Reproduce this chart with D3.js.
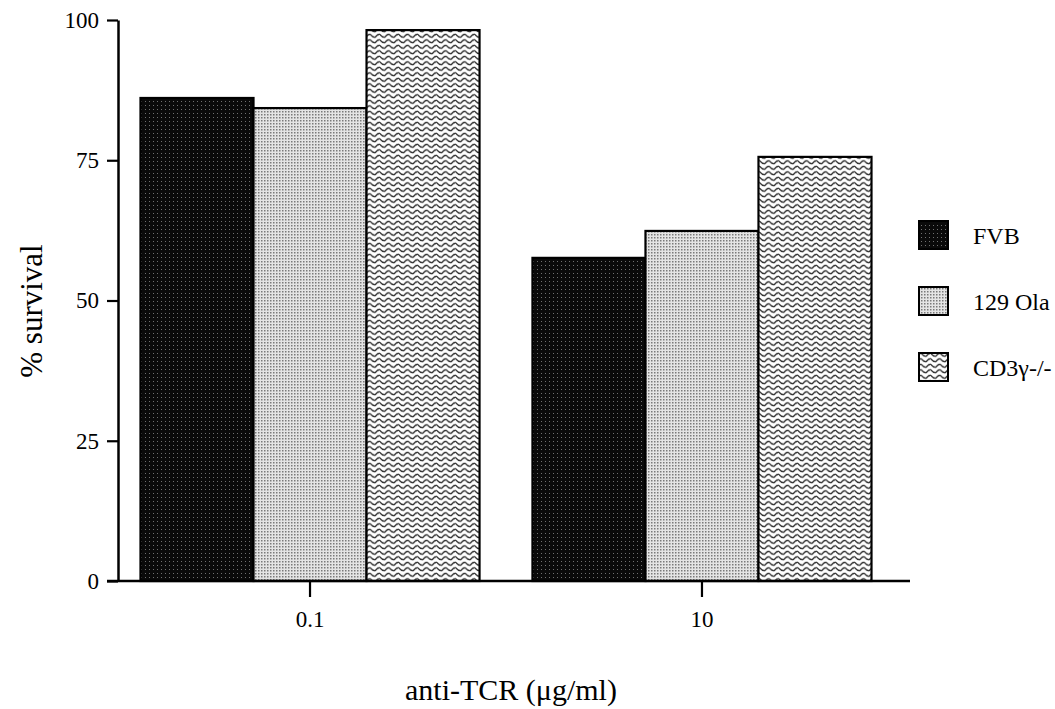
<!DOCTYPE html>
<html><head><meta charset="utf-8">
<script src="https://cdn.jsdelivr.net/npm/d3@7"></script>
<style>body{margin:0;background:#fff}svg{display:block}</style>
</head><body>
<svg id="c" width="1055" height="709"></svg>
<script>
const categories = ["0.1", "10"];
const seriesNames = ["FVB", "129 Ola", "CD3γ-/-"];
const FVB = [86.1, 57.6];
const Ola129 = [84.3, 62.4];
const CD3g = [98.2, 75.6];
const yTicks = [0, 25, 50, 75, 100];
const seriesValues = [FVB, Ola129, CD3g];

const svg = d3.select("#c");
const font = "'Liberation Serif', 'Times New Roman', serif";
const defs = svg.append("defs");

// FVB: dark halftone
const p1 = defs.append("pattern").attr("id","pFVB").attr("patternUnits","userSpaceOnUse").attr("width",4).attr("height",4);
p1.append("rect").attr("width",4).attr("height",4).attr("fill","#0a0a0a");
p1.append("rect").attr("x",1).attr("y",1).attr("width",1).attr("height",1).attr("fill","#707070");
// 129 Ola: light dotted
const p2 = defs.append("pattern").attr("id","pOla").attr("patternUnits","userSpaceOnUse").attr("width",3).attr("height",3);
p2.append("rect").attr("width",3).attr("height",3).attr("fill","#e4e4e4");
p2.append("rect").attr("x",0).attr("y",0).attr("width",1.5).attr("height",1.5).attr("fill","#7a7a7a");
// CD3: wavy lines
const p3 = defs.append("pattern").attr("id","pCD3").attr("patternUnits","userSpaceOnUse").attr("width",9.5).attr("height",5.5);
p3.append("rect").attr("width",9.5).attr("height",5.5).attr("fill","#fff");
p3.append("path").attr("d","M-0.5,1.2 Q2.4,4.6 4.75,4.3 Q7.1,1.0 10,1.2").attr("fill","none").attr("stroke","#222").attr("stroke-width",1.1);
p3.append("path").attr("d","M0,1.3 L2.4,4.2 L4.75,4.3 L7.1,1.2 L9.5,1.3").attr("fill","none").attr("stroke","#222").attr("stroke-width",0.8);
const fills = ["url(#pFVB)","url(#pOla)","url(#pCD3)"];

const y = d3.scaleLinear().domain([0,100]).range([581,20]);
const x0 = d3.scaleBand().domain(categories).range([114,898]).paddingInner(0.135).paddingOuter(0.0676);
const x1 = d3.scaleBand().domain(seriesNames).range([0, x0.bandwidth()]).padding(0);

// bars
const g = svg.append("g");
categories.forEach((c, ci) => {
  seriesNames.forEach((s, si) => {
    const v = seriesValues[si][ci];
    g.append("rect")
      .attr("x", x0(c) + x1(s))
      .attr("y", y(v))
      .attr("width", x1.bandwidth())
      .attr("height", y(0) - y(v))
      .attr("fill", fills[si])
      .attr("stroke", "#000").attr("stroke-width", 2.2);
  });
});

// y axis
const yAxis = svg.append("g").attr("transform","translate(118,0)")
  .call(d3.axisLeft(y).tickValues(yTicks).tickSize(11).tickSizeOuter(0).tickPadding(8));
yAxis.select(".domain").attr("stroke-width",2.5);
yAxis.selectAll(".tick line").attr("stroke-width",2.2);
yAxis.selectAll("text").attr("font-family",font).attr("font-size",23).attr("fill","#000");

// x axis
const xAxis = svg.append("g").attr("transform","translate(0,581)")
  .call(d3.axisBottom(x0).tickSize(16).tickSizeOuter(0).tickPadding(14));
xAxis.select(".domain").attr("d","M107,0H910").attr("stroke-width",2.5);
xAxis.selectAll(".tick line").attr("stroke-width",2.2);
xAxis.selectAll("text").attr("font-family",font).attr("font-size",23).attr("fill","#000");

// axis titles
svg.append("text").attr("transform","translate(42,311) rotate(-90)")
  .attr("text-anchor","middle").attr("font-family",font).attr("font-size",31).text("% survival");
svg.append("text").attr("x",511).attr("y",700)
  .attr("text-anchor","middle").attr("font-family",font).attr("font-size",30).text("anti-TCR (μg/ml)");

// legend
const legY = [235, 301, 367];
seriesNames.forEach((s, i) => {
  svg.append("rect").attr("x",919).attr("y",legY[i]-14).attr("width",29).attr("height",28)
    .attr("fill",fills[i]).attr("stroke","#000").attr("stroke-width",2);
  svg.append("text").attr("x",973).attr("y",legY[i]+9).attr("font-family",font).attr("font-size",24).text(s);
});
</script>
</body></html>
